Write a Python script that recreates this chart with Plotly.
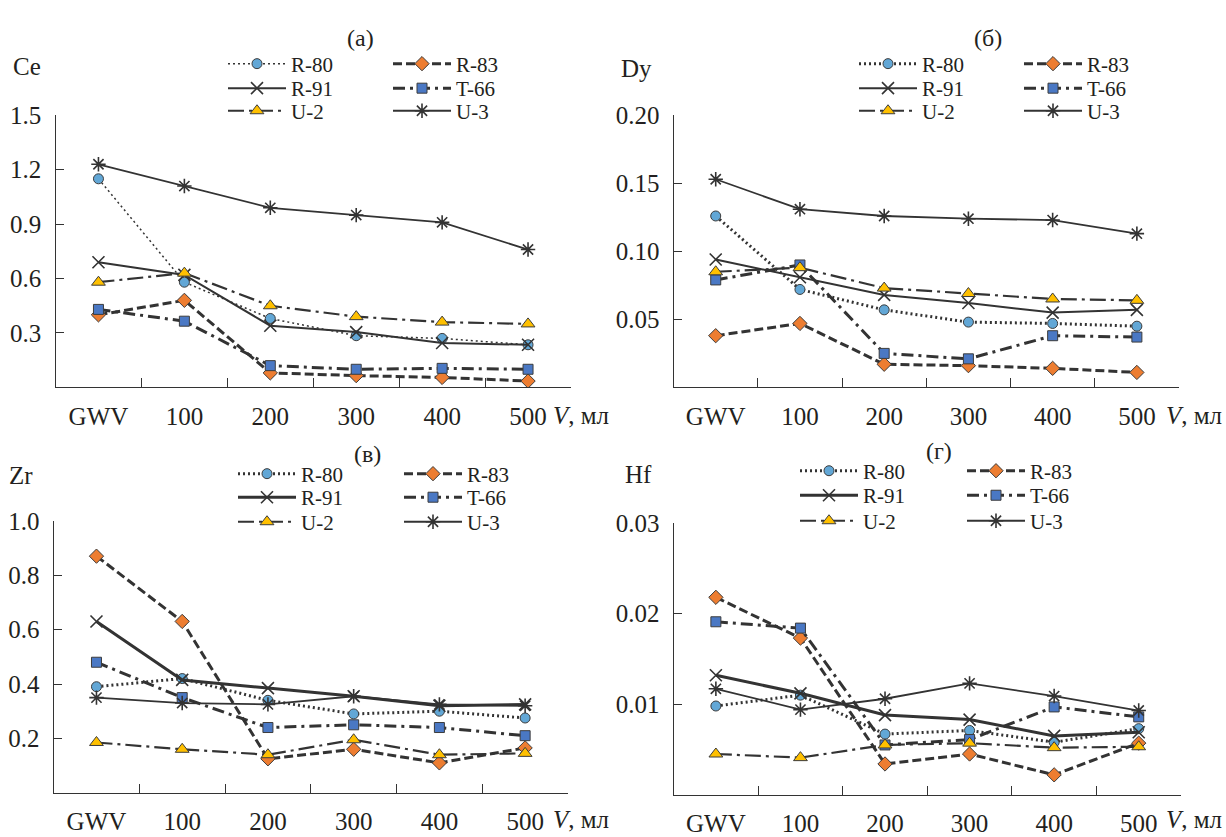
import plotly.graph_objects as go

W, H = 1226, 837

categories = ["GWV", "100", "200", "300", "400", "500"]
series_names = ["R-80", "R-83", "R-91", "T-66", "U-2", "U-3"]

# Ce
ce_r80 = [1.15, 0.58, 0.38, 0.285, 0.27, 0.235]
ce_r83 = [0.40, 0.48, 0.08, 0.065, 0.055, 0.035]
ce_r91 = [0.69, 0.62, 0.34, 0.305, 0.245, 0.235]
ce_t66 = [0.43, 0.365, 0.12, 0.10, 0.105, 0.10]
ce_u2 = [0.58, 0.63, 0.45, 0.39, 0.36, 0.35]
ce_u3 = [1.23, 1.11, 0.99, 0.95, 0.91, 0.76]

# Dy
dy_r80 = [0.126, 0.072, 0.057, 0.048, 0.047, 0.045]
dy_r83 = [0.038, 0.047, 0.017, 0.016, 0.014, 0.011]
dy_r91 = [0.094, 0.081, 0.068, 0.062, 0.055, 0.057]
dy_t66 = [0.079, 0.090, 0.025, 0.021, 0.038, 0.037]
dy_u2 = [0.085, 0.088, 0.073, 0.069, 0.065, 0.064]
dy_u3 = [0.153, 0.131, 0.126, 0.124, 0.123, 0.113]

# Zr
zr_r80 = [0.39, 0.42, 0.34, 0.29, 0.30, 0.275]
zr_r83 = [0.87, 0.63, 0.125, 0.16, 0.11, 0.165]
zr_r91 = [0.63, 0.415, 0.385, 0.355, 0.32, 0.325]
zr_t66 = [0.48, 0.35, 0.24, 0.25, 0.24, 0.21]
zr_u2 = [0.185, 0.16, 0.14, 0.195, 0.14, 0.145]
zr_u3 = [0.35, 0.33, 0.325, 0.355, 0.325, 0.32]

# Hf
hf_r80 = [0.0098, 0.0110, 0.0067, 0.0071, 0.0058, 0.0073]
hf_r83 = [0.0218, 0.0173, 0.0034, 0.0045, 0.0022, 0.0057]
hf_r91 = [0.0132, 0.0112, 0.0088, 0.0083, 0.0065, 0.0069]
hf_t66 = [0.0191, 0.0184, 0.0055, 0.0061, 0.0097, 0.0086]
hf_u2 = [0.0045, 0.0041, 0.0055, 0.0057, 0.0052, 0.0053]
hf_u3 = [0.0117, 0.0094, 0.0106, 0.0123, 0.0109, 0.0093]

panel_labels = ["(a)", "(б)", "(в)", "(г)"]
element_labels = ["Ce", "Dy", "Zr", "Hf"]
y_ranges = [[0, 1.5], [0, 0.2], [0, 1.0], [0, 0.03]]
y_ticks = [[0.3, 0.6, 0.9, 1.2, 1.5], [0.05, 0.10, 0.15, 0.20],
           [0.2, 0.4, 0.6, 0.8, 1.0], [0.01, 0.02, 0.03]]
y_ticktext = [["0.3", "0.6", "0.9", "1.2", "1.5"], ["0.05", "0.10", "0.15", "0.20"],
              ["0.2", "0.4", "0.6", "0.8", "1.0"], ["0.01", "0.02", "0.03"]]

panel_data = [
    [ce_r80, ce_r83, ce_r91, ce_t66, ce_u2, ce_u3],
    [dy_r80, dy_r83, dy_r91, dy_t66, dy_u2, dy_u3],
    [zr_r80, zr_r83, zr_r91, zr_t66, zr_u2, zr_u3],
    [hf_r80, hf_r83, hf_r91, hf_t66, hf_u2, hf_u3],
]

FONT = "Liberation Serif"
TXT = "#231f20"
LINE = "#333333"
MK_LINE = "#3c3c3c"

styles = {
    "R-80": dict(dash="2px,3px", symbol="circle", color="#62a7d6", size=10),
    "R-83": dict(dash="9px,4px", symbol="diamond", color="#ed7d31", size=11),
    "R-91": dict(dash="solid", symbol="x-thin-open", color=LINE, size=12),
    "T-66": dict(dash="12px,5px,3px,5px", symbol="square", color="#4a78c4", size=10),
    "U-2": dict(dash="16px,5px,3px,5px", symbol="triangle-up", color="#ffc000", size=12),
    "U-3": dict(dash="solid", symbol="asterisk-open", color=LINE, size=12),
}
widths = [
    {"R-80": 1.5, "R-83": 3, "R-91": 2, "T-66": 3, "U-2": 2.2, "U-3": 1.8},
    {"R-80": 3, "R-83": 3, "R-91": 2, "T-66": 3, "U-2": 2.2, "U-3": 1.8},
    {"R-80": 3, "R-83": 3, "R-91": 3, "T-66": 3, "U-2": 2.2, "U-3": 1.8},
    {"R-80": 3, "R-83": 3, "R-91": 3, "T-66": 3, "U-2": 2.2, "U-3": 1.8},
]

geom = [
    (55.5, 571.0, 381.7, 104.3),
    (673.6, 1179.0, 381.7, 104.3),
    (53.6, 568.0, 795.0, 517.7),
    (673.6, 1181.0, 797.0, 520.0),
]
leg_geom = [
    (291, 456, [52, 77, 100]),
    (922, 1087, [52, 77, 100]),
    (301, 467, [470, 494, 519]),
    (863, 1030, [467, 492, 518]),
]
title_pos = [(360, 25), (988, 25), (367, 450), (939, 447)]
elem_pos = [(27, 55), (636, 57), (21, 472), (638, 470)]
unit_pos = [(551, 410), (1164, 410), (551, 822), (1164, 822)]


def px(x):
    return x / W


def py(y):
    return 1 - y / H


fig = go.Figure()
layout = dict(
    width=W, height=H, margin=dict(l=0, r=0, t=0, b=0),
    paper_bgcolor="white", plot_bgcolor="white", showlegend=True,
    font=dict(family=FONT, color=TXT, size=25),
    annotations=[],
)

legend_counter = 0
for p in range(4):
    ax = "" if p == 0 else str(p + 1)
    xl, xr, y0, yt = geom[p]
    layout["xaxis" + ax] = dict(
        domain=[px(xl), px(xr)], anchor="y" + ax, type="category",
        categoryorder="array", categoryarray=categories,
        range=[-0.5, 5.5], tickson="boundaries", ticks="inside", ticklen=9,
        tickwidth=1.2, tickcolor=LINE, showline=True, linecolor=LINE, linewidth=1.3,
        showgrid=False, zeroline=False, tickfont=dict(size=25, family=FONT, color=TXT),
        ticklabelstandoff=6,
    )
    layout["yaxis" + ax] = dict(
        domain=[py(y0), py(yt)], anchor="x" + ax, range=y_ranges[p],
        tickvals=y_ticks[p], ticktext=y_ticktext[p], ticks="inside", ticklen=8,
        tickwidth=1.2, tickcolor=LINE, showline=True, linecolor=LINE, linewidth=1.3,
        showgrid=False, zeroline=False, tickfont=dict(size=25, family=FONT, color=TXT),
        ticklabelstandoff=8,
    )
    c1, c2, rows = leg_geom[p]
    for i, name in enumerate(series_names):
        st = styles[name]
        legend_counter += 1
        lname = "legend" if legend_counter == 1 else "legend%d" % legend_counter
        col = i % 2
        row = i // 2
        tx = c1 if col == 0 else c2
        layout[lname] = dict(
            x=px(tx - 68), y=py(rows[row]), xanchor="left", yanchor="middle",
            bgcolor="rgba(0,0,0,0)", borderwidth=0, itemwidth=58, visible=True,
            font=dict(size=21, family=FONT, color=TXT),
        )
        open_sym = st["symbol"].endswith("open")
        fig.add_trace(go.Scatter(
            x=categories, y=panel_data[p][i], name=name, mode="lines+markers",
            xaxis="x" + ax, yaxis="y" + ax, legend=lname, showlegend=True,
            line=dict(color=LINE, width=widths[p][name], dash=st["dash"]),
            marker=dict(symbol=st["symbol"], size=st["size"], color=st["color"],
                        line=dict(color=LINE if open_sym else MK_LINE,
                                  width=1.6 if open_sym else 1)),
        ))
    tx, ty = title_pos[p]
    layout["annotations"].append(dict(
        text=panel_labels[p], x=px(tx), y=py(ty), xref="paper", yref="paper",
        showarrow=False, font=dict(size=24, family=FONT, color=TXT),
        xanchor="center", yanchor="middle"))
    ex, ey = elem_pos[p]
    layout["annotations"].append(dict(
        text=element_labels[p], x=px(ex), y=py(ey), xref="paper", yref="paper",
        showarrow=False, font=dict(size=25, family=FONT, color=TXT),
        xanchor="center", yanchor="middle"))
    ux, uy = unit_pos[p]
    layout["annotations"].append(dict(
        text="<i>V</i>, мл", x=px(ux), y=py(uy), xref="paper", yref="paper",
        showarrow=False, font=dict(size=25, family=FONT, color=TXT),
        xanchor="left", yanchor="middle"))

fig.update_layout(**layout)
fig.write_html("out.html")
